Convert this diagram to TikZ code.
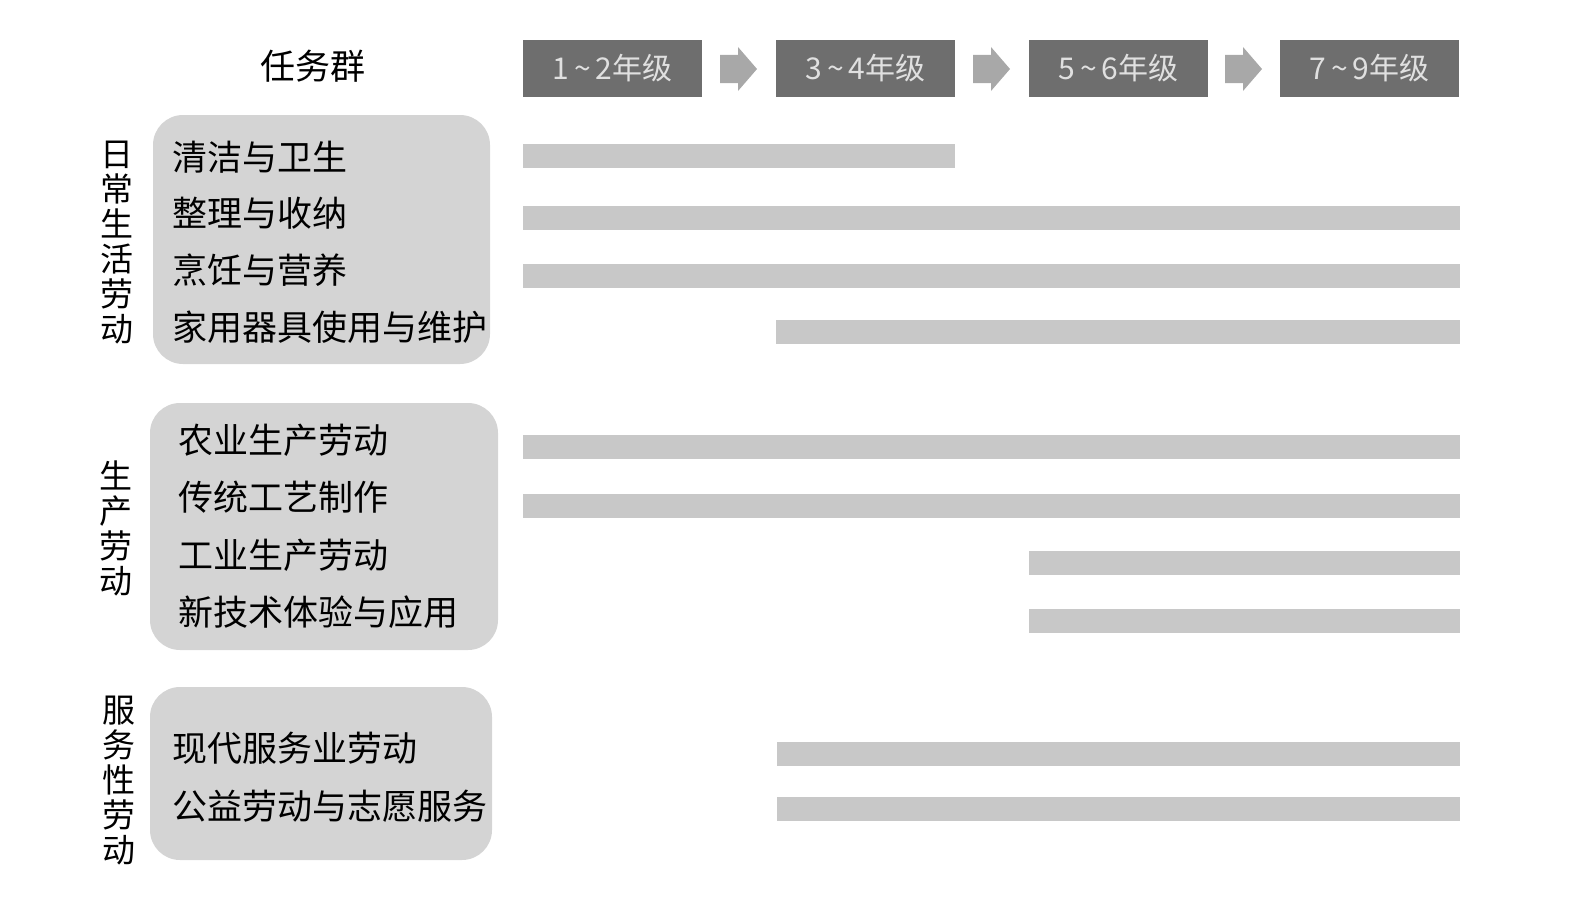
\documentclass[tikz,border=0pt]{standalone}
\usepackage{fontspec}
\newfontfamily\cjk{Noto Sans CJK SC}
\definecolor{hdr}{HTML}{6E6E6E}
\definecolor{bar}{HTML}{C8C8C8}
\definecolor{grp}{HTML}{D4D4D4}
\definecolor{arr}{HTML}{A8A8A8}
\begin{document}
\begin{tikzpicture}[x=1pt,y=-1pt,
  hbox/.style={fill=hdr,draw=none,minimum width=179pt,minimum height=57pt,inner sep=0,text=white!88!black,font=\cjk\fontsize{30}{32}\selectfont},
  barr/.style={fill=bar,draw=none},
  gbox/.style={fill=grp,draw=none,rounded corners=30pt},
  item/.style={anchor=west,font=\cjk\fontsize{35}{37}\selectfont,inner sep=0},
  vlab/.style={align=center,font=\cjk\fontsize{33}{35}\selectfont,inner sep=0}]
\useasboundingbox (0,0) rectangle (1589,899);
\node[font=\cjk\fontsize{35}{37}\selectfont] (rw) at (313,66) {任务群};
\node[hbox] (h1) at (612.5,68.5) {1\,\textasciitilde\,2年级};
\node[hbox] (h2) at (865.5,68.5) {3\,\textasciitilde\,4年级};
\node[hbox] (h3) at (1118.5,68.5) {5\,\textasciitilde\,6年级};
\node[hbox] (h4) at (1369.5,68.5) {7\,\textasciitilde\,9年级};
\foreach \x in {720,973,1225}
  \fill[arr] (\x,55) -- (\x+18,55) -- (\x+18,47) -- (\x+37,69) -- (\x+18,91) -- (\x+18,83) -- (\x,83) -- cycle;
% group boxes
\fill[gbox] (153,115) rectangle (490,364);
\fill[gbox] (150,403) rectangle (498,650);
\fill[gbox] (150,687) rectangle (492,860);
% bars
\fill[barr] (523,144) rectangle (955,168);
\fill[barr] (523,206) rectangle (1460,230);
\fill[barr] (523,264) rectangle (1460,288);
\fill[barr] (776,320) rectangle (1460,344);
\fill[barr] (523,435) rectangle (1460,459);
\fill[barr] (523,494) rectangle (1460,518);
\fill[barr] (1029,551) rectangle (1460,575);
\fill[barr] (1029,609) rectangle (1460,633);
\fill[barr] (777,742) rectangle (1460,766);
\fill[barr] (777,797) rectangle (1460,821);
% items
\node[item] (i1) at (172,157) {清洁与卫生};
\node[item] (i2) at (172,213) {整理与收纳};
\node[item] (i3) at (172,270) {烹饪与营养};
\node[item] (i4) at (172,327) {家用器具使用与维护};
\node[item] (i5) at (178,440) {农业生产劳动};
\node[item] (i6) at (178,497) {传统工艺制作};
\node[item] (i7) at (178,555) {工业生产劳动};
\node[item] (i8) at (178,612) {新技术体验与应用};
\node[item] (i9) at (172,748) {现代服务业劳动};
\node[item] (i10) at (172,806) {公益劳动与志愿服务};
% vertical labels
\node[vlab] (g1) at (117,243) {日\\常\\生\\活\\劳\\动};
\node[vlab] (g2) at (116,528) {生\\产\\劳\\动};
\node[vlab] (g3) at (119,781) {服\\务\\性\\劳\\动};
\end{tikzpicture}
\end{document}
